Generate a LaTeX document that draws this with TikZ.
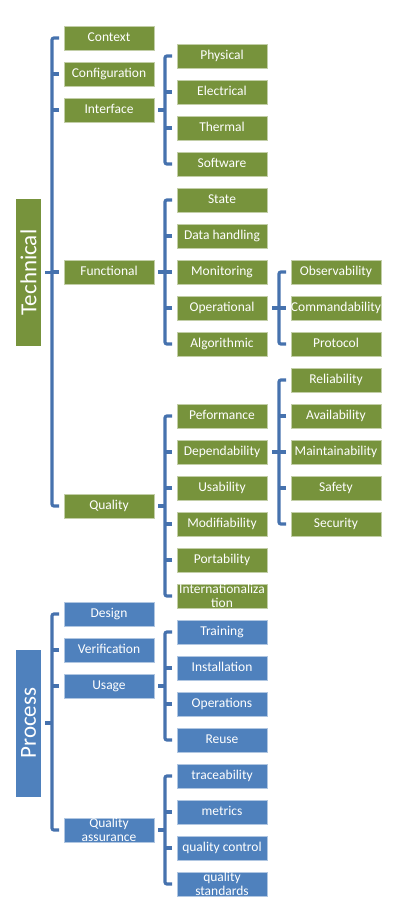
\documentclass[tikz,border=0pt]{standalone}
\usepackage{fontspec}
\setmainfont{Carlito}
\usetikzlibrary{positioning}
\definecolor{techgreen}{HTML}{77933C}
\definecolor{procblue}{HTML}{4F81BD}
\definecolor{linkblue}{HTML}{4672AE}
\newcommand{\twolines}[2]{\smash{\raisebox{-2.2pt}{\begin{tabular}{@{}c@{}}#1\\#2\end{tabular}}}}

\begin{document}
\begin{tikzpicture}[
    x=1pt,y=-1pt,
    node distance=12pt,
    box/.style={rectangle,fill=#1,draw=white!55!#1,line width=0.6pt,text=white,
      minimum width=90pt,minimum height=24pt,inner xsep=0pt,inner ysep=0pt,outer sep=0pt,
      text height=10pt,text depth=3pt,font=\fontsize{13.5}{14}\selectfont},
    gbox/.style={box=techgreen},
    bbox/.style={box=procblue},
    root/.style={rectangle,fill=#1,rotate=90,text=white,minimum width=147pt,
      minimum height=25pt,inner sep=0pt,font=\fontsize{23}{26}\selectfont},
    link/.style={draw=linkblue,line width=3.2pt,rounded corners=2pt}]
    \useasboundingbox (0,0) rectangle (403,913);

    % first level
    \node[root=techgreen] (tech) at (28.5,272.5) {Technical};
    \node[root=procblue] (proc) at (28.5,723) {Process};

    % second level
    \node[gbox] (ctx) at (109,38) {Context};
    \node[gbox] (cfg) at (109,74) {Configuration};
    \node[gbox] (ifc) at (109,110) {Interface};
    \node[gbox] (fun) at (109,272) {Functional};
    \node[gbox] (qual) at (109,506) {Quality};
    \node[bbox] (dsg) at (109,614) {Design};
    \node[bbox] (ver) at (109,650) {Verification};
    \node[bbox] (usg) at (109,686) {Usage};
    \node[bbox] (qa) at (109,830) {\twolines{Quality}{assurance}};

    % third level
    \node[gbox] (phy) at (222,56) {Physical};
    \node[gbox,below=of phy] (ele) {Electrical};
    \node[gbox,below=of ele] (the) {Thermal};
    \node[gbox,below=of the] (sw) {Software};
    \node[gbox,below=of sw] (sta) {State};
    \node[gbox,below=of sta] (dat) {Data handling};
    \node[gbox,below=of dat] (mon) {Monitoring};
    \node[gbox,below=of mon] (ope) {Operational};
    \node[gbox,below=of ope] (alg) {Algorithmic};
    \node[gbox,below=48pt of alg] (per) {Peformance};
    \node[gbox,below=of per] (dep) {Dependability};
    \node[gbox,below=of dep] (usa) {Usability};
    \node[gbox,below=of usa] (mod) {Modifiability};
    \node[gbox,below=of mod] (por) {Portability};
    \node[gbox,below=of por] (int) {\twolines{Internationaliza}{tion}};
    \node[bbox,below=of int] (tra) {Training};
    \node[bbox,below=of tra] (ins) {Installation};
    \node[bbox,below=of ins] (ops) {Operations};
    \node[bbox,below=of ops] (reu) {Reuse};
    \node[bbox,below=of reu] (trc) {traceability};
    \node[bbox,below=of trc] (met) {metrics};
    \node[bbox,below=of met] (qc) {quality control};
    \node[bbox,below=of qc] (qs) {\twolines{quality}{standards}};

    % fourth level
    \node[gbox,right=24pt of mon] (obs) {Observability};
    \node[gbox,below=of obs] (com) {Commandability};
    \node[gbox,below=of com] (pro) {Protocol};
    \node[gbox,below=of pro] (rel) {Reliability};
    \node[gbox,below=of rel] (ava) {Availability};
    \node[gbox,below=of ava] (mai) {Maintainability};
    \node[gbox,below=of mai] (saf) {Safety};
    \node[gbox,below=of saf] (sec) {Security};

    % Technical
    \draw[link] ([xshift=-5pt]ctx.west) -- ++(-7pt,0) |- ([xshift=-5pt]qual.west);
    \draw[link] ([xshift=-5pt]cfg.west) -- ++(-7pt,0);
    \draw[link] ([xshift=-5pt]ifc.west) -- ++(-7pt,0);
    \draw[link] ([xshift=-5pt]fun.west) -- ++(-7pt,0);
    \draw[link] (tech.center -| ctx.west) ++(-12pt,0) -- ++(-7pt,0);

    % Interface
    \draw[link] ([xshift=-5pt]phy.west) -- ++(-7pt,0) |- ([xshift=-5pt]sw.west);
    \draw[link] ([xshift=-5pt]ele.west) -- ++(-7pt,0);
    \draw[link] ([xshift=-5pt]the.west) -- ++(-7pt,0);
    \draw[link] (ifc.center -| phy.west) ++(-12pt,0) -- ++(-7pt,0);

    % Functional
    \draw[link] ([xshift=-5pt]sta.west) -- ++(-7pt,0) |- ([xshift=-5pt]alg.west);
    \draw[link] ([xshift=-5pt]dat.west) -- ++(-7pt,0);
    \draw[link] ([xshift=-5pt]mon.west) -- ++(-7pt,0);
    \draw[link] ([xshift=-5pt]ope.west) -- ++(-7pt,0);
    \draw[link] (fun.center -| sta.west) ++(-12pt,0) -- ++(-7pt,0);

    % Operational
    \draw[link] ([xshift=-5pt]obs.west) -- ++(-7pt,0) |- ([xshift=-5pt]pro.west);
    \draw[link] ([xshift=-5pt]com.west) -- ++(-7pt,0);
    \draw[link] (ope.center -| obs.west) ++(-12pt,0) -- ++(-7pt,0);

    % Quality
    \draw[link] ([xshift=-5pt]per.west) -- ++(-7pt,0) |- ([xshift=-5pt]int.west);
    \draw[link] ([xshift=-5pt]dep.west) -- ++(-7pt,0);
    \draw[link] ([xshift=-5pt]usa.west) -- ++(-7pt,0);
    \draw[link] ([xshift=-5pt]mod.west) -- ++(-7pt,0);
    \draw[link] ([xshift=-5pt]por.west) -- ++(-7pt,0);
    \draw[link] (qual.center -| per.west) ++(-12pt,0) -- ++(-7pt,0);

    % Dependability
    \draw[link] ([xshift=-5pt]rel.west) -- ++(-7pt,0) |- ([xshift=-5pt]sec.west);
    \draw[link] ([xshift=-5pt]ava.west) -- ++(-7pt,0);
    \draw[link] ([xshift=-5pt]mai.west) -- ++(-7pt,0);
    \draw[link] ([xshift=-5pt]saf.west) -- ++(-7pt,0);
    \draw[link] (dep.center -| rel.west) ++(-12pt,0) -- ++(-7pt,0);

    % Process
    \draw[link] ([xshift=-5pt]dsg.west) -- ++(-7pt,0) |- ([xshift=-5pt]qa.west);
    \draw[link] ([xshift=-5pt]ver.west) -- ++(-7pt,0);
    \draw[link] ([xshift=-5pt]usg.west) -- ++(-7pt,0);
    \draw[link] (proc.center -| dsg.west) ++(-12pt,0) -- ++(-7pt,0);

    % Usage
    \draw[link] ([xshift=-5pt]tra.west) -- ++(-7pt,0) |- ([xshift=-5pt]reu.west);
    \draw[link] ([xshift=-5pt]ins.west) -- ++(-7pt,0);
    \draw[link] ([xshift=-5pt]ops.west) -- ++(-7pt,0);
    \draw[link] (usg.center -| tra.west) ++(-12pt,0) -- ++(-7pt,0);

    % Quality assurance
    \draw[link] ([xshift=-5pt]trc.west) -- ++(-7pt,0) |- ([xshift=-5pt]qs.west);
    \draw[link] ([xshift=-5pt]met.west) -- ++(-7pt,0);
    \draw[link] ([xshift=-5pt]qc.west) -- ++(-7pt,0);
    \draw[link] (qa.center -| trc.west) ++(-12pt,0) -- ++(-7pt,0);
  \end{tikzpicture}
\end{document}
